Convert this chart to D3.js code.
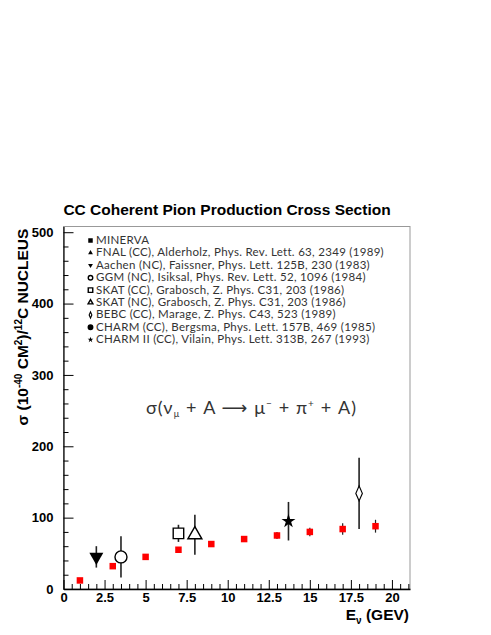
<!DOCTYPE html>
<html>
<head>
<meta charset="utf-8">
<script src="https://cdn.jsdelivr.net/npm/d3@7"></script>
<style>
  body { margin: 0; background: #fff; }
  svg { display: block; }
</style>
</head>
<body>
<svg id="chart" width="491" height="635"></svg>
<script>
// ---- data ----
const minervaE = [1, 3, 5, 7, 9, 11, 13, 15, 17, 19];
const minervaSigma = [12, 32, 45, 55, 63, 70, 75, 80, 84, 88];
const minervaErr = [1, 2, 2, 3, 3, 4, 5, 6, 8, 9];

const expNames = ["Aachen (NC)", "GGM (NC)", "SKAT (CC)", "SKAT (NC)", "CHARM II (CC)", "BEBC (CC)"];
const expE = [2, 3.5, 7, 8, 13.7, 18];
const expSigma = [45, 45, 78, 76, 95, 134];
const expErr = [15, 29, 12, 28, 27, 50];
const expMarker = ["triDown", "circle", "square", "triangle", "star", "diamond"];

const legendLabels = [
  "MINERVA",
  "FNAL (CC), Alderholz, Phys. Rev. Lett. 63, 2349 (1989)",
  "Aachen (NC), Faissner, Phys. Lett. 125B, 230 (1983)",
  "GGM (NC), Isiksal, Phys. Rev. Lett. 52, 1096 (1984)",
  "SKAT (CC), Grabosch, Z. Phys. C31, 203 (1986)",
  "SKAT (NC), Grabosch, Z. Phys. C31, 203 (1986)",
  "BEBC (CC), Marage, Z. Phys. C43, 523 (1989)",
  "CHARM (CC), Bergsma, Phys. Lett. 157B, 469 (1985)",
  "CHARM II (CC), Vilain, Phys. Lett. 313B, 267 (1993)"
];
const legendMarkers = ["square", "triangle", "triDown", "circle", "square", "triangle", "diamond", "circle", "star"];
const legendFilled = [true, true, true, false, false, false, false, true, true];

const xMajorTicks = [0, 2.5, 5, 7.5, 10, 12.5, 15, 17.5, 20];
const yMajorTicks = [0, 100, 200, 300, 400, 500];

// ---- layout ----
const svg = d3.select("#chart");
const L = 63.5, R = 410, T = 226.5, B = 589;
const x = d3.scaleLinear().domain([0, 21.1]).range([L, R]);
const y = d3.scaleLinear().domain([0, 508]).range([B, T]);

const bold = "'Liberation Sans', Arial, Helvetica, sans-serif";
const thin = "Lato, 'Open Sans', 'DejaVu Sans', sans-serif";

// frame (top/right)
svg.append("rect")
  .attr("x", L).attr("y", T).attr("width", R - L).attr("height", B - T)
  .attr("fill", "none").attr("stroke", "#999").attr("stroke-width", 1);

// title
svg.append("text")
  .attr("x", 227).attr("y", 215)
  .attr("text-anchor", "middle")
  .attr("font-family", bold).attr("font-weight", "bold").attr("font-size", 15.5)
  .text("CC Coherent Pion Production Cross Section");

// x axis minor
const xMinor = d3.range(0, 21.01, 0.5).filter(v => xMajorTicks.indexOf(v) < 0);
svg.append("g").attr("transform", `translate(0,${B})`)
  .call(d3.axisBottom(x).tickValues(xMinor).tickSize(-5).tickFormat(""))
  .call(g => g.select(".domain").remove())
  .call(g => g.selectAll("line").attr("stroke", "#000"));
// x axis major
svg.append("g").attr("transform", `translate(0,${B})`)
  .call(d3.axisBottom(x).tickValues(xMajorTicks).tickSize(-9).tickSizeOuter(0).tickPadding(3)
    .tickFormat(d => d3.format("")(d)))
  .call(g => g.select(".domain").attr("stroke", "#000").attr("stroke-width", 1.4))
  .call(g => g.selectAll("line").attr("stroke", "#000"))
  .call(g => g.selectAll("text").attr("font-family", bold).attr("font-weight", "bold")
    .attr("font-size", 13).attr("fill", "#000").attr("dy", "0.8em"));

// y axis minor
const yMinor = d3.range(0, 508, 20).filter(v => yMajorTicks.indexOf(v) < 0);
svg.append("g").attr("transform", `translate(${L},0)`)
  .call(d3.axisLeft(y).tickValues(yMinor).tickSize(-5).tickFormat(""))
  .call(g => g.select(".domain").remove())
  .call(g => g.selectAll("line").attr("stroke", "#000"));
// y axis major
svg.append("g").attr("transform", `translate(${L},0)`)
  .call(d3.axisLeft(y).tickValues(yMajorTicks).tickSize(-10).tickSizeOuter(0).tickPadding(10))
  .call(g => g.select(".domain").attr("stroke", "#000").attr("stroke-width", 1.2))
  .call(g => g.selectAll("line").attr("stroke", "#000"))
  .call(g => g.selectAll("text").attr("font-family", bold).attr("font-weight", "bold")
    .attr("font-size", 13).attr("fill", "#000"));

// y label
const yl = svg.append("text")
  .attr("transform", "translate(28,327) rotate(-90)")
  .attr("text-anchor", "middle")
  .attr("font-family", bold).attr("font-weight", "bold").attr("font-size", 15.5);
yl.append("tspan").text("σ (10");
yl.append("tspan").attr("font-size", 10).attr("dy", -6).text("-40");
yl.append("tspan").attr("dy", 6).text(" CM");
yl.append("tspan").attr("font-size", 10).attr("dy", -6).text("2");
yl.append("tspan").attr("dy", 6).text(")/");
yl.append("tspan").attr("font-size", 10).attr("dy", -6).text("12");
yl.append("tspan").attr("dy", 6).text("C  NUCLEUS");

// x label
const xl = svg.append("text")
  .attr("x", 409).attr("y", 620)
  .attr("text-anchor", "end")
  .attr("font-family", bold).attr("font-weight", "bold").attr("font-size", 15.5);
xl.append("tspan").text("E");
xl.append("tspan").attr("font-size", 10).attr("dy", 4).text("ν");
xl.append("tspan").attr("dy", -4).text(" (GEV)");

// formula
const f = svg.append("text")
  .attr("x", 146).attr("y", 414)
  .attr("font-family", thin).attr("font-size", 18).attr("fill", "#333")
  .attr("letter-spacing", 1.1);
f.append("tspan").text("σ(ν");
f.append("tspan").attr("font-size", 9).attr("dy", 3).text("μ");
f.append("tspan").attr("dy", -3).text(" + A  ⟶  μ");
f.append("tspan").attr("font-size", 10).attr("dy", -7).text("−");
f.append("tspan").attr("dy", 7).text(" + π");
f.append("tspan").attr("font-size", 10).attr("dy", -7).text("+");
f.append("tspan").attr("dy", 7).text(" + A)");

// marker helper
function marker(g, type, cx, cy, size, filled, color) {
  const stroke = color || "#000";
  const fill = filled ? stroke : "#fff";
  if (type === "circle") {
    g.append("circle").attr("cx", cx).attr("cy", cy).attr("r", size / 2)
      .attr("fill", fill).attr("stroke", stroke).attr("stroke-width", 1.4);
    return;
  }
  const s = size * size;
  let sym, rot = 0, sx = 1;
  if (type === "square") sym = d3.symbolSquare;
  else if (type === "triangle") sym = d3.symbolTriangle;
  else if (type === "triDown") { sym = d3.symbolTriangle; rot = 180; }
  else if (type === "star") sym = d3.symbolStar;
  else if (type === "diamond") { sym = d3.symbolDiamond; sx = 0.75; }
  const area = type === "square" ? s : type === "star" ? s * 0.5 : type === "diamond" ? s * 0.55 : s * 0.5;
  g.append("path")
    .attr("d", d3.symbol().type(sym).size(area)())
    .attr("transform", `translate(${cx},${cy}) rotate(${rot}) scale(${sx},1)`)
    .attr("fill", fill).attr("stroke", stroke).attr("stroke-width", filled ? 0 : 1.4);
}

const plot = svg.append("g");

// other experiments: error bars
expE.forEach((e, i) => {
  plot.append("line")
    .attr("x1", x(e)).attr("x2", x(e))
    .attr("y1", y(expSigma[i] - expErr[i])).attr("y2", y(expSigma[i] + expErr[i]))
    .attr("stroke", "#222").attr("stroke-width", 1.6);
});
const expSizes = {triDown: 13, circle: 12, square: 10.5, triangle: 13, star: 11, diamond: 11};
expE.forEach((e, i) => {
  const m = expMarker[i];
  marker(plot, m, x(e), y(expSigma[i]), expSizes[m], m === "triDown" || m === "star");
});

// MINERVA
minervaE.forEach((e, i) => {
  plot.append("line")
    .attr("x1", x(e)).attr("x2", x(e))
    .attr("y1", y(minervaSigma[i] - minervaErr[i])).attr("y2", y(minervaSigma[i] + minervaErr[i]))
    .attr("stroke", "#222").attr("stroke-width", 1.2);
  marker(plot, "square", x(e), y(minervaSigma[i]), 6.5, true, "#f00");
});

// legend
const lg = svg.append("g");
legendLabels.forEach((lab, i) => {
  const ly = 244 + i * 12.4;
  marker(lg, legendMarkers[i], 90.5, ly - 3.5, 4.5, legendFilled[i]);
  lg.append("text").attr("x", 96).attr("y", ly)
    .attr("font-family", thin).attr("font-size", 11.5).attr("fill", "#333")
    .attr("letter-spacing", 0.3)
    .text(lab);
});
</script>
</body>
</html>
